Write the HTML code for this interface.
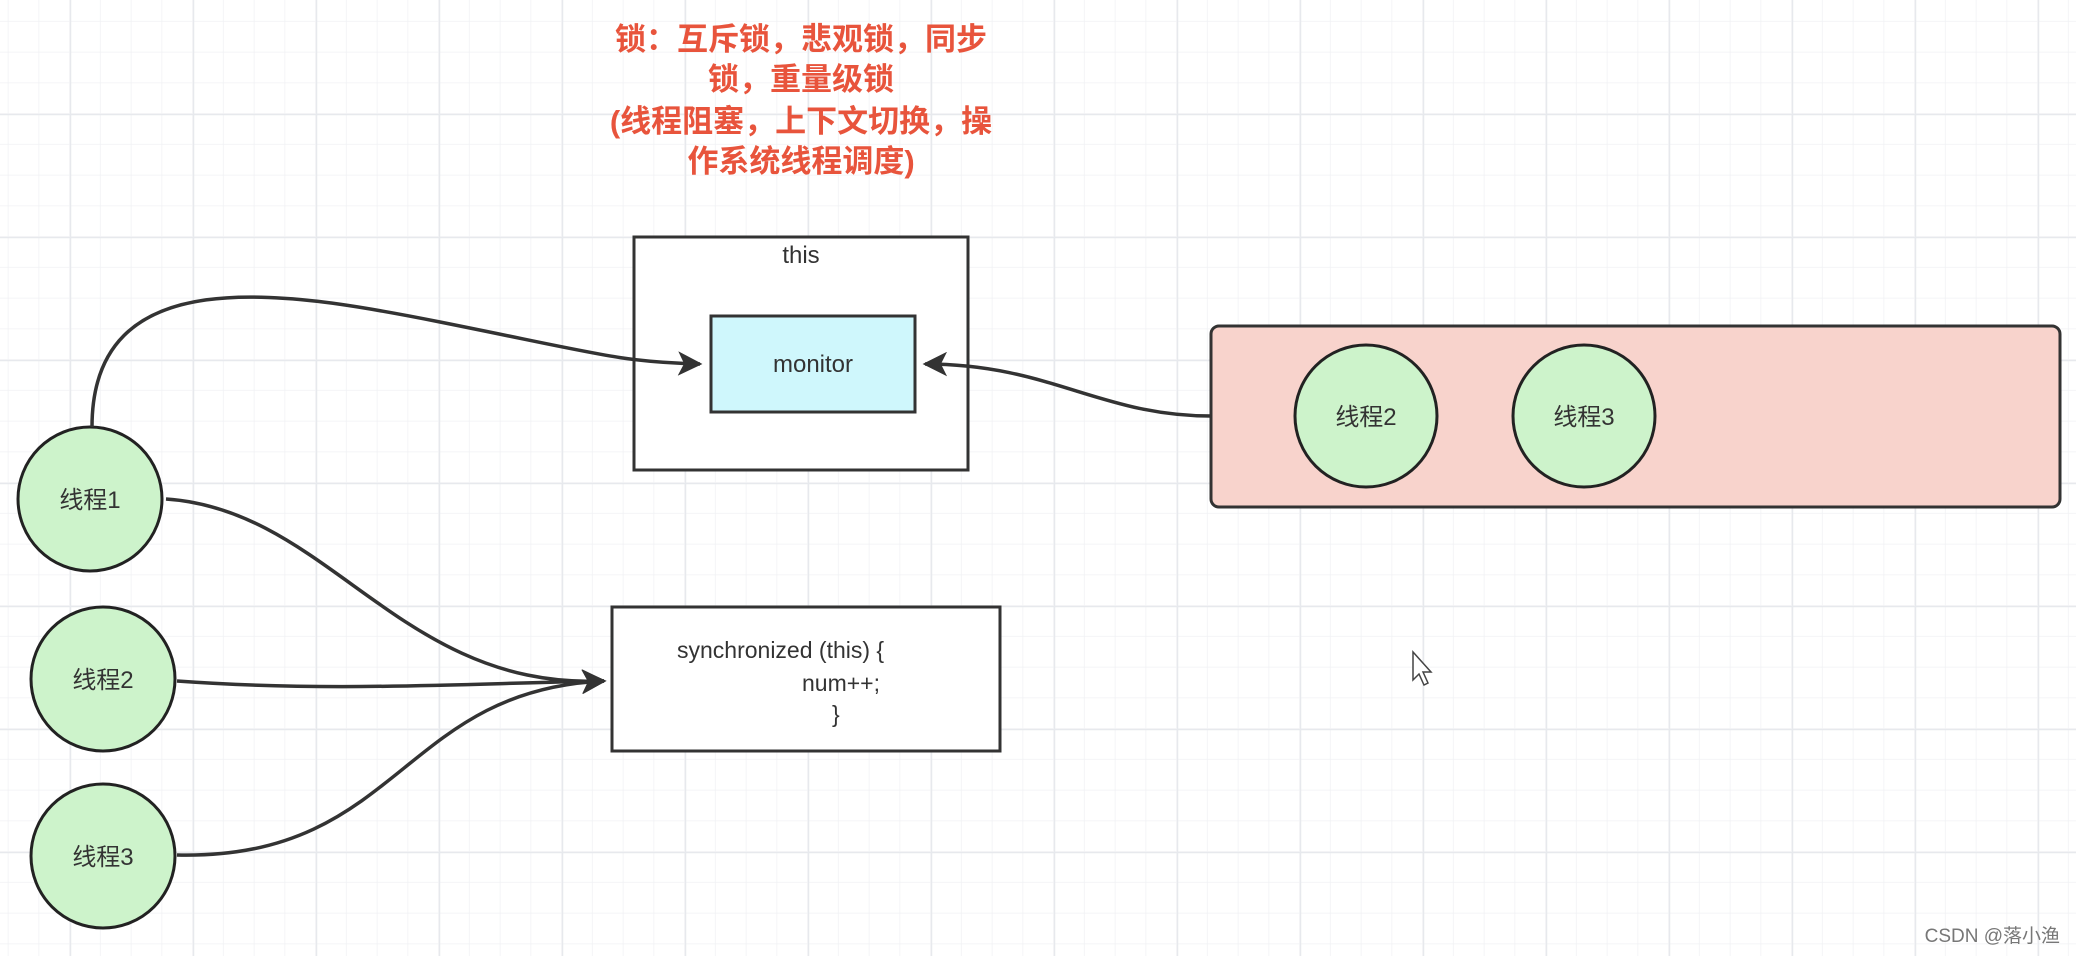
<!DOCTYPE html>
<html><head><meta charset="utf-8"><style>
html,body{margin:0;padding:0;}
body{width:2076px;height:956px;overflow:hidden;background:#fff;}
</style></head><body>
<svg width="2076" height="956" viewBox="0 0 2076 956" xmlns="http://www.w3.org/2000/svg" font-family="Liberation Sans, Noto Sans CJK SC, sans-serif">
<defs>
<pattern id="minor" x="70" y="114" width="30.75" height="30.75" patternUnits="userSpaceOnUse">
<path d="M30.75 0V30.75M0 30.75H30.75" stroke="#f0f1f4" stroke-width="1.5" fill="none"/>
</pattern>
<pattern id="major" x="70" y="114" width="123" height="123" patternUnits="userSpaceOnUse">
<path d="M0 0V123M0 0H123" stroke="#e7e9ed" stroke-width="2.5" fill="none"/>
</pattern>
<marker id="ar" viewBox="0 0 10 10" refX="9" refY="5" markerWidth="7" markerHeight="7" orient="auto" markerUnits="strokeWidth">
<path d="M0 0L10 5L0 10L2.5 5z" fill="#333"/>
</marker>
</defs>
<rect width="2076" height="956" fill="url(#minor)"/>
<rect width="2076" height="956" fill="url(#major)"/>

<g fill="#e8543c" font-weight="bold" font-size="31" text-anchor="middle">
<text x="801" y="50">锁：互斥锁，悲观锁，同步</text>
<text x="801" y="90">锁，重量级锁</text>
<text x="801" y="132">(线程阻塞，上下文切换，操</text>
<text x="801" y="172">作系统线程调度)</text>
</g>

<rect x="634" y="237" width="334" height="233" fill="#fff" stroke="#333" stroke-width="3"/>
<text x="801" y="263" font-size="24" fill="#333" text-anchor="middle">this</text>
<rect x="711" y="316" width="204" height="96" fill="#cff7fc" stroke="#333" stroke-width="3"/>
<text x="813" y="372" font-size="24" fill="#333" text-anchor="middle">monitor</text>

<rect x="1211" y="326" width="849" height="181" rx="8" fill="#f8d3cc" stroke="#333" stroke-width="3"/>
<ellipse cx="1366" cy="416" rx="71" ry="71" fill="#cdf3cb" stroke="#222" stroke-width="3"/>
<text x="1366" y="425" font-size="24" fill="#333" text-anchor="middle">线程2</text>
<ellipse cx="1584" cy="416" rx="71" ry="71" fill="#cdf3cb" stroke="#222" stroke-width="3"/>
<text x="1584" y="425" font-size="24" fill="#333" text-anchor="middle">线程3</text>

<ellipse cx="90" cy="499" rx="72" ry="72" fill="#cdf3cb" stroke="#222" stroke-width="3"/>
<text x="90" y="508" font-size="24" fill="#333" text-anchor="middle">线程1</text>
<ellipse cx="103" cy="679" rx="72" ry="72" fill="#cdf3cb" stroke="#222" stroke-width="3"/>
<text x="103" y="688" font-size="24" fill="#333" text-anchor="middle">线程2</text>
<ellipse cx="103" cy="856" rx="72" ry="72" fill="#cdf3cb" stroke="#222" stroke-width="3"/>
<text x="103" y="865" font-size="24" fill="#333" text-anchor="middle">线程3</text>

<rect x="612" y="607" width="388" height="144" fill="#fff" stroke="#333" stroke-width="3"/>
<g font-size="23" fill="#333">
<text x="677" y="658">synchronized (this) {</text>
<text x="802" y="691">num++;</text>
<text x="832" y="722">}</text>
</g>

<g fill="none" stroke="#333" stroke-width="3.5">
<path d="M92 427 C 92 260, 280 290, 440 322 S 620 362, 700 364" marker-end="url(#ar)"/>
<path d="M1211 416 C 1100 416, 1050 364, 925 364" marker-end="url(#ar)"/>
<path d="M166 499 C 330 510, 400 690, 604 681" marker-end="url(#ar)"/>
<path d="M177 681 C 330 692, 450 684, 604 681" marker-end="url(#ar)"/>
<path d="M177 855 C 400 860, 400 690, 604 681" marker-end="url(#ar)"/>
</g>

<path d="M1413 652 L1413 680 L1419 674 L1424 685 L1428 683 L1423 672 L1431 672 Z" fill="#fff" stroke="#444" stroke-width="1.5"/>
<text x="2060" y="942" font-size="19" fill="#777" text-anchor="end">CSDN @落小渔</text>
</svg>
</body></html>
